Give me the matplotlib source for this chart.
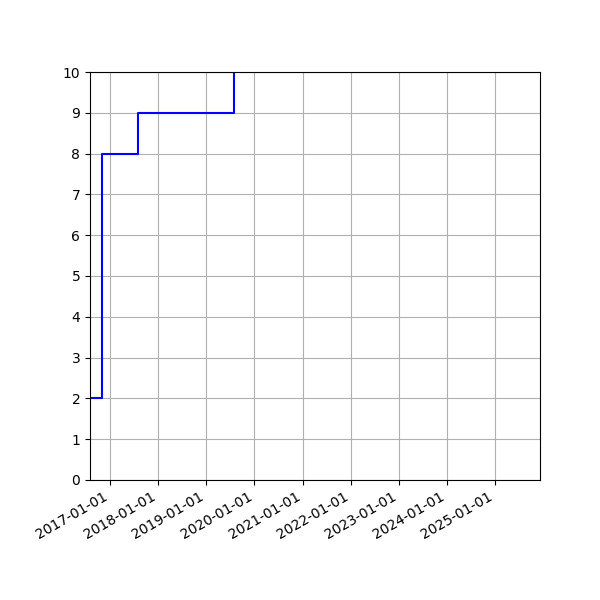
import matplotlib
matplotlib.use("Agg")
import matplotlib.pyplot as plt
import matplotlib.dates as mdates
import numpy as np

dates = np.array(["2016-08-01", "2016-11-01", "2017-08-01", "2019-08-01"], dtype="datetime64[D]")
values = [2, 8, 9, 12]
xlim = np.array(["2016-08-01", "2025-12-08"], dtype="datetime64[D]")

fig, ax = plt.subplots(figsize=(6, 6), dpi=100)
ax.step(dates, values, where="post", color="blue")
ax.set_xlim(xlim[0], xlim[1])
ax.set_ylim(0, 10)
ax.set_yticks(range(0, 11))
ax.xaxis.set_major_locator(mdates.YearLocator())
ax.xaxis.set_major_formatter(mdates.DateFormatter("%Y-%m-%d"))
ax.grid(True)
fig.autofmt_xdate()
fig.subplots_adjust(left=0.15, right=0.9, top=0.88, bottom=0.2)
fig.savefig("out.png")
